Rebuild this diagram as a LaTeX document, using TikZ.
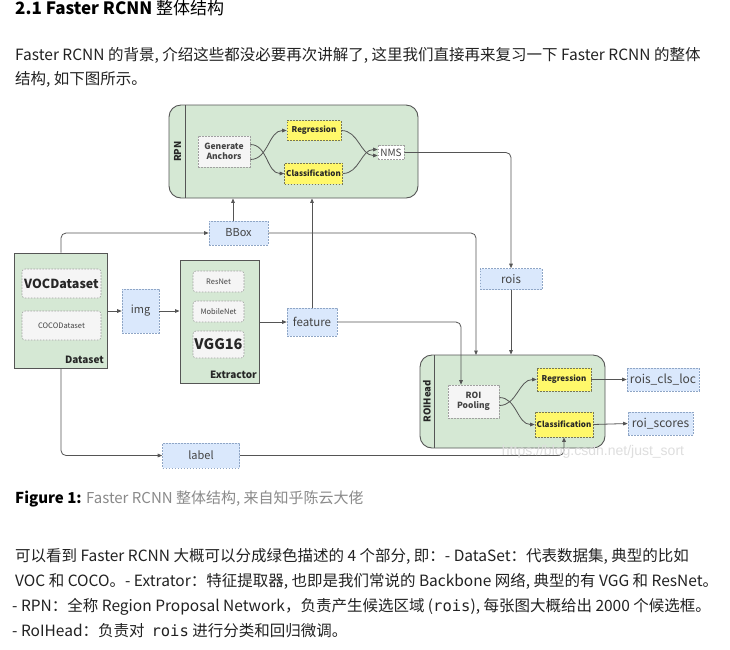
\documentclass[tikz,border=0pt]{standalone}
\usepackage{fontspec}
\setmainfont{Noto Sans CJK SC}
\newfontfamily\codefont{DejaVu Sans Mono}
\newfontfamily\wmfont{Liberation Sans}
\usetikzlibrary{arrows.meta,calc}
\definecolor{grn}{HTML}{D5E8D4}
\definecolor{edge}{HTML}{555555}
\definecolor{blu}{HTML}{DAE8FC}
\definecolor{bluedge}{HTML}{8FA6C6}
\definecolor{yel}{HTML}{FFF86A}
\definecolor{yeledge}{HTML}{777755}
\definecolor{gry}{HTML}{F5F5F5}
\definecolor{gryedge}{HTML}{A0A0A0}
\definecolor{txt}{HTML}{222222}
\definecolor{captxt}{HTML}{8A8A8A}
\definecolor{lbl}{HTML}{444444}
\tikzset{
  greenbox/.style={draw=edge, fill=grn, line width=0.9pt, inner sep=0pt},
  bluebox/.style={draw=bluedge, fill=blu, line width=0.6pt, dash pattern=on 1.6pt off 1.4pt, inner sep=0pt, text=lbl},
  yelbox/.style={draw=yeledge, fill=yel, line width=0.6pt, dash pattern=on 1.6pt off 1.4pt, inner sep=0pt, font=\fontsize{8}{9}\selectfont\bfseries, text=black!85},
  grybox/.style={draw=gryedge, fill=gry, line width=0.6pt, dash pattern=on 1.6pt off 1.4pt, inner sep=0pt, text=lbl},
  rgry/.style={grybox, rounded corners=3pt},
  arr/.style={draw=edge, line width=0.8pt, -{Triangle[length=4.5pt,width=3.6pt]}},
  bodytext/.style={anchor=base west, inner sep=0pt, text=txt, font=\fontsize{15.5}{18}\selectfont},
}
\begin{document}
\begin{tikzpicture}[x=1pt,y=-1pt]
\useasboundingbox[fill=white] (0,0) rectangle (730,649);

% ---------- text above ----------
\node[anchor=base west, inner sep=0pt, text=black, font=\fontsize{17}{20}\selectfont\bfseries] (title) at (15,14.5) {2.1 Faster RCNN \mdseries 整体结构};
\node[bodytext] (p1) at (15,60) {Faster RCNN 的背景, 介绍这些都没必要再次讲解了, 这里我们直接再来复习一下 Faster RCNN 的整体};
\node[bodytext] (p2) at (15,84) {结构, 如下图所示。};

% ---------- RPN ----------
\node[greenbox, rounded corners=12pt, minimum width=249pt, minimum height=93pt] (rpn) at (293.5,151.5) {};
\draw[edge, line width=0.9pt] (185,105) -- (185,198);
\node[rotate=90, font=\fontsize{9.5}{10}\selectfont\bfseries, text=black!85] (rpnl) at (177.5,151.5) {RPN};
\node[grybox, minimum width=52pt, minimum height=31pt, align=center, font=\fontsize{8.5}{10}\selectfont\bfseries] (ga) at (224,151.5) {Generate\\Anchors};
\node[yelbox, minimum width=54pt, minimum height=20pt] (reg) at (314,130.5) {Regression};
\node[yelbox, minimum width=58pt, minimum height=21pt] (cls) at (313.5,173.5) {Classification};
\node[grybox, fill=white, minimum width=26pt, minimum height=14pt, font=\fontsize{10}{11}\selectfont] (nms) at (391,152.5) {NMS};
\draw[arr] ([yshift=-8pt]ga.east) to[out=0,in=180] (reg.west);
\draw[arr] ([yshift=7pt]ga.east) to[out=0,in=180] (cls.west);
\draw[arr] (reg.east) to[out=0,in=180] ([yshift=-3pt]nms.west);
\draw[arr] (cls.east) to[out=0,in=180] ([yshift=3pt]nms.west);

% ---------- Dataset ----------
\node[greenbox, minimum width=93pt, minimum height=115pt] (ds) at (61,310.5) {};
\node[rgry, minimum width=79pt, minimum height=29pt, font=\fontsize{12.5}{14}\selectfont\bfseries, text=black!85] (voc) at (61.5,283.5) {VOCDataset};
\node[rgry, minimum width=79pt, minimum height=29pt, font=\fontsize{7.5}{8}\selectfont] (coco) at (61.5,325.5) {COCODataset};
\node[anchor=east, inner sep=0pt, font=\fontsize{10}{11}\selectfont\bfseries, text=black!85] (dsl) at (104,360) {Dataset};

% ---------- img ----------
\node[bluebox, minimum width=37pt, minimum height=44pt, font=\fontsize{11}{12}\selectfont] (img) at (140.5,311) {img};

% ---------- Extractor ----------
\node[greenbox, minimum width=79pt, minimum height=123pt] (ext) at (219.5,321.5) {};
\node[rgry, minimum width=51pt, minimum height=21pt, font=\fontsize{7.5}{8}\selectfont] (resnet) at (218.5,281.5) {ResNet};
\node[rgry, minimum width=51pt, minimum height=21pt, font=\fontsize{7.5}{8}\selectfont] (mobile) at (218.5,311.5) {MobileNet};
\node[rgry, minimum width=51pt, minimum height=27pt, font=\fontsize{14.5}{16}\selectfont\bfseries, text=black!85] (vgg) at (218.5,344.5) {VGG16};
\node[anchor=east, inner sep=0pt, font=\fontsize{10}{11}\selectfont\bfseries, text=black!85] (extl) at (257,375) {Extractor};

% ---------- blue data boxes ----------
\node[bluebox, minimum width=59pt, minimum height=24pt, font=\fontsize{11}{12}\selectfont] (bbox) at (238.5,233) {BBox};
\node[bluebox, minimum width=50pt, minimum height=28pt, font=\fontsize{11.5}{12}\selectfont] (feat) at (312,322) {feature};
\node[bluebox, minimum width=62pt, minimum height=21pt, font=\fontsize{11.5}{12}\selectfont] (rois) at (511,279) {rois};
\node[bluebox, minimum width=77pt, minimum height=25pt, font=\fontsize{11}{12}\selectfont] (label) at (201,455.5) {label};

% ---------- ROIHead ----------
\node[greenbox, rounded corners=12pt, minimum width=185pt, minimum height=93pt] (roih) at (512.5,401.5) {};
\draw[edge, line width=0.9pt] (434,355) -- (434,448);
\node[rotate=90, font=\fontsize{9.5}{10}\selectfont\bfseries, text=black!85] (roihl) at (427,401.5) {ROIHead};
\node[grybox, minimum width=51pt, minimum height=33pt, align=center, font=\fontsize{8.5}{10}\selectfont\bfseries] (pool) at (473.5,401.5) {ROI\\Pooling};
\node[yelbox, minimum width=54pt, minimum height=23pt] (rreg) at (564,379.5) {Regression};
\node[yelbox, minimum width=58pt, minimum height=25pt] (rcls) at (564,424.5) {Classification};
\node[bluebox, minimum width=72pt, minimum height=23pt, font=\fontsize{12}{13}\selectfont] (rloc) at (663,379.5) {rois\_cls\_loc};
\node[bluebox, minimum width=65pt, minimum height=23pt, font=\fontsize{12}{13}\selectfont] (rsc) at (660.5,423.5) {roi\_scores};
\draw[arr] ([yshift=-4pt]pool.east) to[out=0,in=180] (rreg.west);
\draw[arr] ([yshift=4pt]pool.east) to[out=0,in=180] (rcls.west);
\draw[arr] (rreg.east) -- (rloc.west);
\draw[arr] (rcls.east) -- (rsc.west);

% ---------- connectors ----------
\coordinate (bboxup) at ([xshift=-5.5pt]bbox.north);
\coordinate (bboxdown) at (476,355);
\coordinate (featdown) at ([xshift=-12.5pt]pool.north);
\draw[arr, rounded corners=5pt] (ds.north) |- (bbox.west);
\draw[arr] (ds.east |- img.west) -- (img.west);
\draw[arr] (img.east) -- (img.east -| ext.west);
\draw[arr] (ext.east |- feat.west) -- (feat.west);
\draw[arr] (feat.north) -- (feat.north |- rpn.south);
\draw[arr] (bboxup) -- (bboxup |- rpn.south);
\draw[arr, rounded corners=5pt] (bbox.east) -| (bboxdown);
\draw[arr, rounded corners=5pt] (feat.east) -| (featdown);
\draw[arr, rounded corners=5pt] (nms.east) -| (rois.north);
\draw[arr] (rois.south) -- (rois.south |- roih.north);
\draw[arr, rounded corners=5pt] (ds.south) |- (label.west);
\draw[arr, rounded corners=5pt] (label.east) -| (rcls.south);

% ---------- watermark ----------
\node[inner sep=0pt, text=black!13, font=\wmfont\fontsize{14}{16}\selectfont] (wm) at (593,452) {https://blog.csdn.net/just\_sort};

% ---------- caption ----------
\node[anchor=base west, inner sep=0pt, font=\fontsize{15}{18}\selectfont] (cap) at (15,503) {\textbf{Figure 1:} \textcolor{captxt}{Faster RCNN 整体结构, 来自知乎陈云大佬}};

% ---------- text below ----------
\node[bodytext] (q1) at (15,561) {可以看到 Faster RCNN 大概可以分成绿色描述的 4 个部分, 即：- DataSet：代表数据集, 典型的比如};
\node[bodytext] (q2) at (15,586) {VOC 和 COCO。- Extrator：特征提取器, 也即是我们常说的 Backbone 网络, 典型的有 VGG 和 ResNet。};
\node[bodytext] (q3) at (12,611) {- RPN：全称 Region Proposal Network，负责产生候选区域 ({\codefont rois}), 每张图大概给出 2000 个候选框。};
\node[bodytext] (q4) at (12,636) {- RoIHead：负责对 \ {\codefont rois} 进行分类和回归微调。};
\end{tikzpicture}
\end{document}
